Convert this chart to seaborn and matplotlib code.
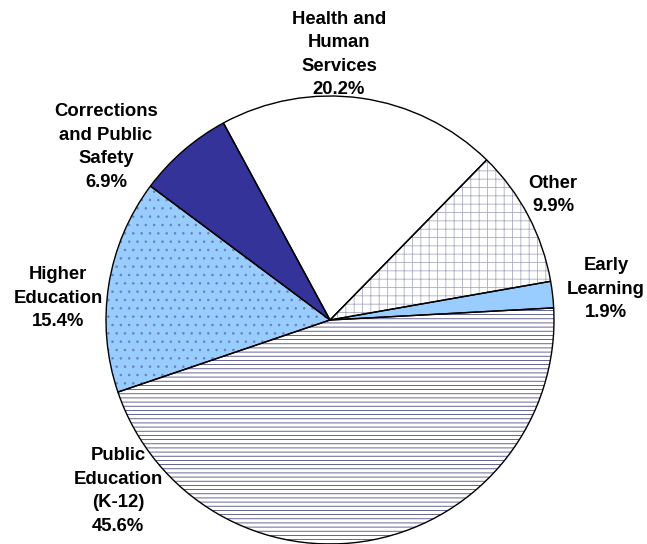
import matplotlib
matplotlib.use("Agg")
import matplotlib.pyplot as plt
import seaborn as sns

# ---- data ----
categories = ["Early Learning", "Other", "Health and Human Services",
              "Corrections and Public Safety", "Higher Education",
              "Public Education (K-12)"]
label_texts = ["Early\nLearning", "Other", "Health and\nHuman\nServices",
               "Corrections\nand Public\nSafety", "Higher\nEducation",
               "Public\nEducation\n(K-12)"]
shares = [1.9, 9.9, 20.2, 6.9, 15.4, 45.6]

# ---- styles ----
face_colors = ["#99CCFF", "#FFFFFF", "#FFFFFF", "#333399", "#99CCFF", "#FFFFFF"]
hatches = [None, "++", None, None, "..", "----"]
hatch_colors = ["#99CCFF", "#ABABC6", "#FFFFFF", "#333399", "#6A82B8", "#4C4C84"]
label_pos = [(1.232, 0.138), (0.996, 0.558), (0.040, 1.185),
             (-1.000, 0.772), (-1.214, 0.098), (-0.946, -0.763)]

sns.set_theme(style="white")
plt.rcParams["font.family"] = ["Liberation Sans", "DejaVu Sans"]
plt.rcParams["hatch.linewidth"] = 0.6

fig = plt.figure(figsize=(6.47, 5.44), dpi=100)
ax = fig.add_axes([0, 0, 1, 1])

start = 3.1
# filled + hatched layer
wedges, _ = ax.pie(shares, startangle=start, counterclock=True,
                   wedgeprops=dict(linewidth=0))
for w, fc, h, hc in zip(wedges, face_colors, hatches, hatch_colors):
    w.set_facecolor(fc)
    w.set_edgecolor(hc)
    w.set_linewidth(0)
    if h:
        w.set_hatch(h)
# outline layer
outline, _ = ax.pie(shares, startangle=start, counterclock=True,
                    wedgeprops=dict(facecolor="none", edgecolor="black",
                                    linewidth=1.0))
for w in outline:
    w.set_clip_on(False)

for txt, v, (x, y) in zip(label_texts, shares, label_pos):
    ax.text(x, y, f"{txt}\n{v:.1f}%", ha="center", va="center",
            fontsize=13.3, fontweight="bold", color="black", linespacing=1.5)

ax.set_xlim(-330 / 224, 317 / 224)
ax.set_ylim(-224 / 224, 320 / 224)
ax.set_aspect("equal", adjustable="box")
ax.axis("off")

fig.savefig("out.png", dpi=100, facecolor="white")
